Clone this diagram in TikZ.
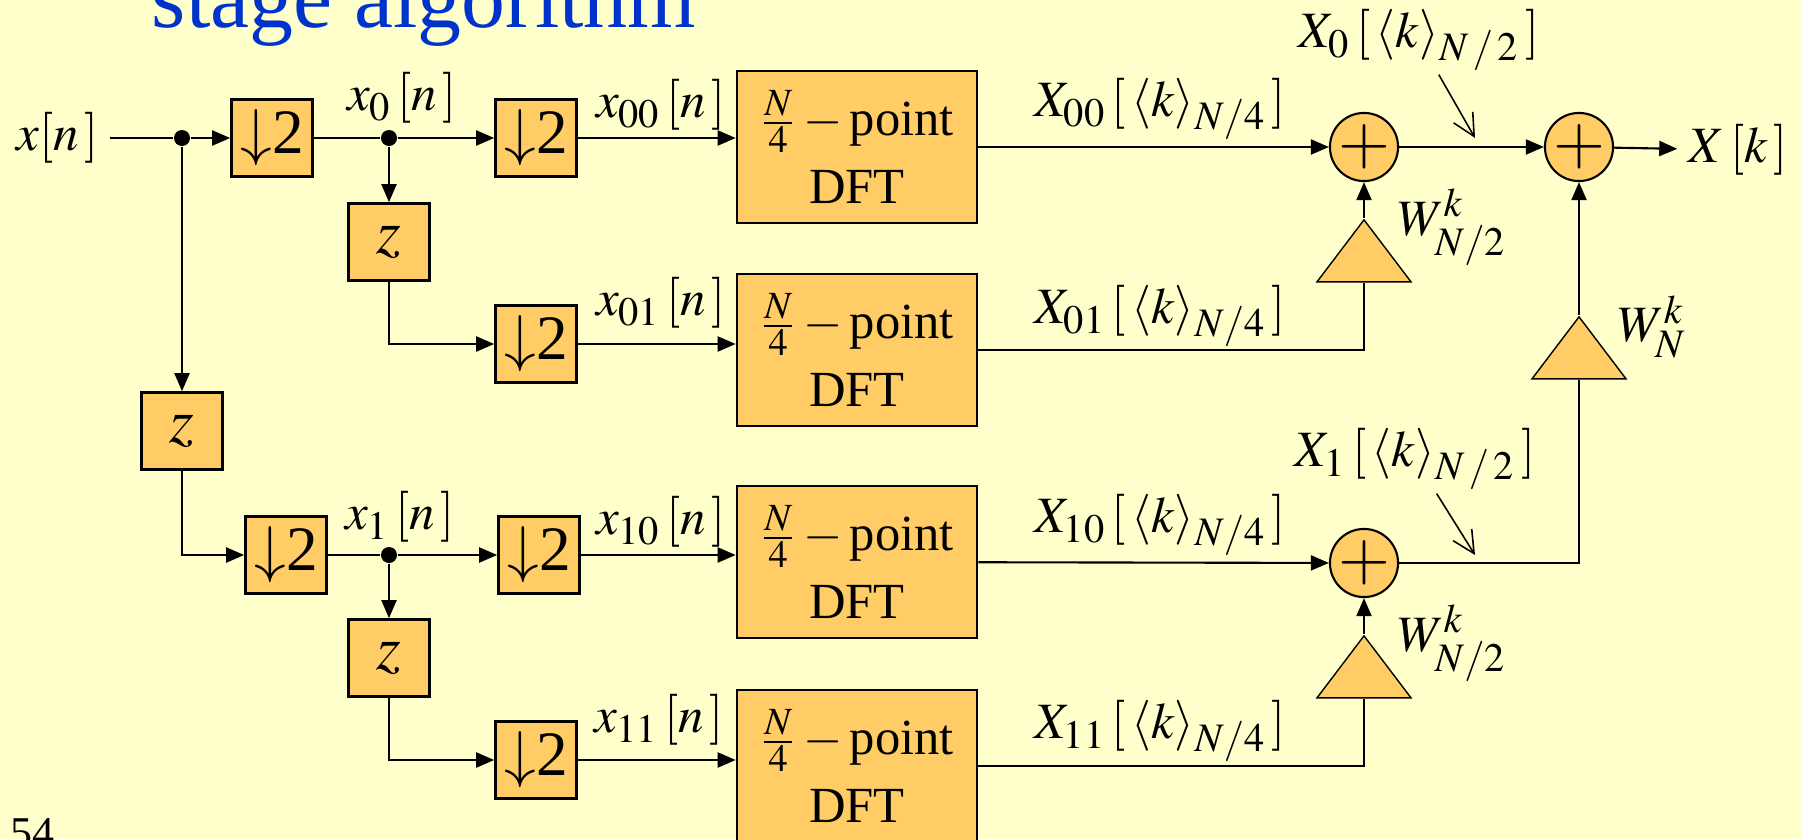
\documentclass[tikz,border=0pt]{standalone}
\usepackage{mathptmx}
\usepackage{fontspec}
\setmainfont{Liberation Serif}
\usetikzlibrary{arrows.meta,shapes.geometric}
\definecolor{slide}{HTML}{FFFFCC}
\definecolor{boxfill}{HTML}{FFCC66}
\definecolor{titleblue}{HTML}{0033CC}
\DeclareMathSizes{14.5}{14.5}{11.5}{8.5}
\tikzset{
  blk/.style={draw=black, fill=boxfill, line width=.75pt, inner sep=0pt},
  dec/.style={blk, minimum width=8.1mm, minimum height=7.7mm,
    font=\fontsize{18}{20}\selectfont},
  dly/.style={blk, minimum width=8.1mm, minimum height=7.7mm,
    font=\fontsize{18}{20}\selectfont},
  dft/.style={blk, minimum width=24mm, minimum height=15.2mm, align=center,
    font=\fontsize{14.4}{19.4}\selectfont},
  adder/.style={circle, draw=black, fill=boxfill, line width=.6pt,
    minimum size=5.2mm, inner sep=0pt, font=\fontsize{19}{19}\selectfont},
  gain/.style={isosceles triangle, isosceles triangle stretches,
    shape border rotate=90, draw=black, fill=boxfill, line width=.4pt,
    minimum width=9.4mm, minimum height=6.2mm, inner sep=0pt},
  junc/.style={circle, fill=black, minimum size=1.6mm, inner sep=0pt},
  lbl/.style={font=\fontsize{14.5}{17}\selectfont, inner sep=1pt},
  wire/.style={draw=black, line width=.6pt},
  flow/.style={wire, -{Triangle[length=1.8mm,width=1.5mm]}},
  pointer/.style={draw=black, line width=.45pt,
    -{Straight Barb[length=2.2mm,width=2.2mm]}},
  slidetitle/.style={font=\fontsize{25}{28}\selectfont, text=titleblue,
    inner sep=0pt}
}
\begin{document}
\begin{tikzpicture}[x=0.1mm,y=-0.1mm]
% crop of the slide: background, then everything clipped to it
\useasboundingbox (0,0) rectangle (1802,839);
\fill[slide] (0,0) rectangle (1802,839);
\clip (0,0) rectangle (1802,839);

% title and page number, both cut off by the crop
\node[slidetitle, anchor=base] (ttl) at (424,27) {stage algorithm};
\node[font=\fontsize{12.5}{14}\selectfont, anchor=base west, inner sep=0pt]
  (pg) at (10,847) {54};

% first stage: split into even and odd samples
\node[lbl, inner sep=3pt] (xin) at (58,138) {$x[n\,]$};
\node[junc] (a) at (182,138) {};
\node[dec] (d0) at (272,138) {$\downarrow$2};
\node[dly] (z) at (182,431) {$z$};
\node[dec] (d1) at (286,555) {$\downarrow$2};

% second stage, upper half
\node[junc] (b) at (389,138) {};
\node[dec] (d00) at (536,138) {$\downarrow$2};
\node[dly] (z0) at (389,242) {$z$};
\node[dec] (d01) at (536,344) {$\downarrow$2};

% second stage, lower half
\node[junc] (c) at (389,555) {};
\node[dec] (d10) at (539,555) {$\downarrow$2};
\node[dly] (z1) at (389,658) {$z$};
\node[dec] (d11) at (536,760) {$\downarrow$2};

% four quarter-length transforms
\node[dft] (dft00) at (857,147) {$\frac{N}{4}-{}$point\\DFT};
\node[dft] (dft01) at (857,350) {$\frac{N}{4}-{}$point\\DFT};
\node[dft] (dft10) at (857,562) {$\frac{N}{4}-{}$point\\DFT};
\node[dft] (dft11) at (857,766) {$\frac{N}{4}-{}$point\\DFT};

% twiddle factors and adders
\node[adder] (s0) at (1364,147) {$+$};
\node[adder] (s1) at (1579,147) {$+$};
\node[adder] (s2) at (1364,563) {$+$};
\node[gain, anchor=apex] (g0) at (1364,218) {};
\node[gain, anchor=apex] (g2) at (1364,634) {};
\node[gain, anchor=apex] (g1) at (1579,315) {};

% signal labels
\node[lbl] (lx0) at (402,98) {$x_0\,[n\,]$};
\node[lbl] (lx00) at (661,105) {$x_{00}\,[n\,]$};
\node[lbl] (lx01) at (661,303) {$x_{01}\,[n\,]$};
\node[lbl] (lx1) at (400,517) {$x_1\,[n\,]$};
\node[lbl] (lx10) at (661,522) {$x_{10}\,[n\,]$};
\node[lbl] (lx11) at (659,720) {$x_{11}\,[n\,]$};
\node[lbl] (lX00) at (1160,109) {$X_{00}\,[\,\langle k\rangle_{N/4}\,]$};
\node[lbl] (lX01) at (1160,316) {$X_{01}\,[\,\langle k\rangle_{N/4}\,]$};
\node[lbl] (lX10) at (1160,525) {$X_{10}\,[\,\langle k\rangle_{N/4}\,]$};
\node[lbl] (lX11) at (1160,731) {$X_{11}\,[\,\langle k\rangle_{N/4}\,]$};
\node[lbl] (lw0) at (1452,227) {$W_{N/2}^{k}$};
\node[lbl] (lw2) at (1452,643) {$W_{N/2}^{k}$};
\node[lbl] (lw1) at (1652,327) {$W_N^k$};
\node[lbl] (lX0) at (1419,40) {$X_0\,[\,\langle k\rangle_{N\,/\,2}\,]$};
\node[lbl] (lX1) at (1415,459) {$X_1\,[\,\langle k\rangle_{N\,/\,2}\,]$};
\node[lbl, inner sep=3pt] (xout) at (1738,150) {$X\,[k\,]$};
\coordinate (p0) at (1475,138);
\coordinate (p1) at (1475,555);

% left side connections
\draw[wire] (xin) -- (a);
\draw[flow] (a) -- (d0);
\draw[flow] (a) -- (z);
\draw[wire] (d0) -- (b);
\draw[flow] (b) -- (d00);
\draw[flow] (b) -- (z0);
\draw[flow] (z0) |- (d01);
\draw[flow] (z) |- (d1);
\draw[wire] (d1) -- (c);
\draw[flow] (c) -- (d10);
\draw[flow] (c) -- (z1);
\draw[flow] (z1) |- (d11);
\draw[flow] (d00) -- (d00 -| dft00.west);
\draw[flow] (d01) -- (d01 -| dft01.west);
\draw[flow] (d10) -- (d10 -| dft10.west);
\draw[flow] (d11) -- (d11 -| dft11.west);

% right side butterflies
\draw[flow] (dft00) -- (s0);
\draw[flow] (g0.apex) -- (s0);
\draw[wire] (dft01) -| (g0.lower side);
\draw[flow] (dft10) -- (s2);
\draw[flow] (g2.apex) -- (s2);
\draw[wire] (dft11) -| (g2.lower side);
\draw[flow] (s0) -- (s1);
\draw[wire] (s2) -| (g1.lower side);
\draw[flow] (g1.apex) -- (s1);
\draw[flow] (s1) -- (xout);
\draw[pointer] (lX0) -- (p0);
\draw[pointer] (lX1) -- (p1);

\end{tikzpicture}
\end{document}
